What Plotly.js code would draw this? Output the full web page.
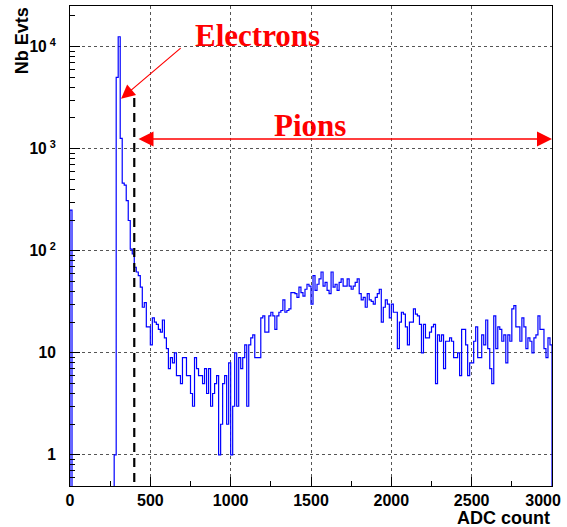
<!DOCTYPE html>
<html>
<head>
<meta charset="utf-8">
<script src="https://cdn.plot.ly/plotly-3.0.1.min.js"></script>
<style>
  html, body { margin: 0; padding: 0; background: #fff; }
  #chart { width: 567px; height: 527px; }
</style>
</head>
<body>
<div id="chart"></div>
<script>
// ---- Data ----
const xMin = 0;
const xMax = 3000;
const binWidth = 12.5;            // ADC counts per bin (240 bins)
const counts = [
  250, 0, 0, 0, 0, 0, 0, 0, 0, 0,
  0, 0, 0, 0, 0, 0, 0, 0, 0, 0,
  0, 0, 1, 5000, 12500, 1260, 460, 440, 310, 198,
  104, 93, 69, 62, 57, 44, 28, 31, 18, 18,
  12, 22, 20, 19, 17, 16, 21, 14, 11, 7,
  9, 8, 10, 6, 6, 5, 9, 9, 6, 6,
  4, 3, 9, 7, 6, 6, 5, 7, 4, 7,
  3, 4, 5, 6, 1, 2, 5, 6, 2, 8,
  1, 3, 10, 3, 9, 7, 9, 12, 3, 12,
  14, 15, 9, 9, 9, 22, 23, 16, 16, 23,
  25, 23, 17, 23, 25, 26, 33, 25, 26, 27,
  39, 39, 38, 35, 44, 39, 36, 42, 47, 45,
  30, 57, 41, 47, 53, 62, 45, 49, 41, 38,
  62, 44, 47, 41, 49, 53, 45, 45, 53, 45,
  42, 45, 49, 53, 38, 33, 35, 28, 38, 33,
  32, 30, 35, 38, 42, 20, 28, 33, 30, 22,
  30, 25, 25, 11, 20, 25, 24, 18, 12, 20,
  20, 27, 24, 23, 19, 10, 19, 14, 14, 16,
  18, 19, 5, 15, 13, 15, 7, 13, 13, 14,
  13, 9, 9, 10, 6, 17, 17, 12, 6, 8,
  8, 13, 18, 9, 9, 15, 12, 21, 11, 7,
  5, 23, 11, 18, 17, 13, 15, 8, 15, 13,
  27, 29, 18, 18, 13, 22, 18, 11, 14, 13,
  10, 14, 15, 23, 17, 17, 11, 9, 14, 12
];
const xTickVals = [0, 500, 1000, 1500, 2000, 2500, 3000];
const xTickText = ['0', '500', '1000', '1500', '2000', '2500', '3000\u00a0\u00a0\u00a0\u00a0'];
const yTickVals = [1, 10, 100, 1000, 10000];
const yTickText = ['1', '10', '10<sup>\u00a02</sup>', '10<sup>\u00a03</sup>', '10<sup>\u00a04</sup>'];
const cutADC = 400;          // electron / pion separation cut
const cutTop = 3200;         // height the dashed cut line reaches
const xTitle = 'ADC count';
const yTitle = 'Nb Evts';
const electronLabel = 'Electrons';
const pionLabel = 'Pions';

// ---- Build the step outline (ROOT-like histogram) ----
const floorVal = 0.1;   // empty bins drawn below the visible range
const hx = [xMin];
const hy = [floorVal];
counts.forEach((c, i) => {
  hx.push(xMin + i * binWidth);
  hy.push(c > 0 ? c : floorVal);
});
hx.push(xMax);
hy.push(floorVal);

// minor log ticks 2..9 per decade
const minorVals = [];
for (let e = -1; e <= 4; e++) for (let m = 2; m <= 9; m++) minorVals.push(m * Math.pow(10, e));

const histTrace = {
  x: hx, y: hy, type: 'scatter', mode: 'lines',
  line: { shape: 'hv', color: '#0000ff', width: 1.2 },
  hoverinfo: 'skip', showlegend: false
};
const cutTrace = {
  x: [cutADC, cutADC], y: [floorVal, cutTop], type: 'scatter', mode: 'lines',
  line: { color: '#000', width: 2.2, dash: '9px,6px' },
  hoverinfo: 'skip', showlegend: false
};

const red = '#ff0000';
const axisFont = { family: 'Liberation Sans, Arial, sans-serif', size: 16, color: '#000', weight: 'bold' };

const layout = {
  width: 567, height: 527,
  margin: { l: 70, r: 15, t: 6, b: 41, pad: 0 },
  paper_bgcolor: '#fff', plot_bgcolor: '#fff',
  showlegend: false,
  xaxis: {
    range: [xMin, xMax],
    tickmode: 'array', tickvals: xTickVals, ticktext: xTickText,
    ticks: 'inside', ticklen: 9, tickwidth: 1, tickcolor: '#000',
    minor: { ticks: 'inside', ticklen: 5, dtick: 250, tick0: 0, tickcolor: '#000', showgrid: false },
    showline: true, mirror: true, linecolor: '#000', linewidth: 1,
    showgrid: true, gridcolor: '#555', griddash: 'dot', gridwidth: 1,
    zeroline: false, ticklabeloverflow: 'allow',
    tickfont: axisFont
  },
  yaxis: {
    type: 'log', range: [-0.304, 4.398],
    tickmode: 'array', tickvals: yTickVals, ticktext: yTickText,
    ticks: 'inside', ticklen: 10, tickwidth: 1, tickcolor: '#000',
    minor: { ticks: 'inside', ticklen: 5, tickmode: 'array', tickvals: minorVals, tickcolor: '#000', showgrid: false },
    showline: true, mirror: true, linecolor: '#000', linewidth: 1,
    showgrid: true, gridcolor: '#555', griddash: 'dot', gridwidth: 1,
    zeroline: false, ticklabelstandoff: 10,
    tickfont: Object.assign({}, axisFont, { size: 15.6 })
  },
  annotations: [
    { text: xTitle, xref: 'paper', yref: 'paper', x: 1, y: -0.066,
      xanchor: 'right', yanchor: 'middle', showarrow: false,
      font: Object.assign({}, axisFont, { size: 18 }) },
    { text: yTitle, xref: 'paper', yref: 'paper', x: -0.0997, y: 0.9286,
      xanchor: 'center', yanchor: 'middle', showarrow: false, textangle: -90,
      font: Object.assign({}, axisFont, { size: 18 }) },
    { text: electronLabel, xref: 'x', yref: 'y', x: 1168, y: 4.106,
      xanchor: 'center', yanchor: 'middle', showarrow: false,
      font: { family: 'Liberation Serif, Times New Roman, serif', size: 31, color: red, weight: 'bold' } },
    { text: pionLabel, xref: 'x', yref: 'y', x: 1495, y: 3.231,
      xanchor: 'center', yanchor: 'middle', showarrow: false,
      font: { family: 'Liberation Serif, Times New Roman, serif', size: 31, color: red, weight: 'bold' } },
    // electron arrow
    { text: '', xref: 'x', yref: 'y', axref: 'x', ayref: 'y',
      x: 318, y: 3.49, ax: 698, ay: 3.998,
      showarrow: true, arrowhead: 2, arrowsize: 2.3, arrowwidth: 1.2, arrowcolor: red, standoff: 0 },
    // pion double arrow
    { text: '', xref: 'x', yref: 'y', axref: 'x', ayref: 'y',
      x: xMax, y: 3.096, ax: 417, ay: 3.096,
      showarrow: true, arrowside: 'end+start', arrowhead: 2, startarrowhead: 2,
      arrowsize: 2, startarrowsize: 2, arrowwidth: 1.5, arrowcolor: red, standoff: 0, startstandoff: 0 }
  ]
};

Plotly.newPlot('chart', [histTrace, cutTrace], layout, { displayModeBar: false, staticPlot: true });
</script>
</body>
</html>
